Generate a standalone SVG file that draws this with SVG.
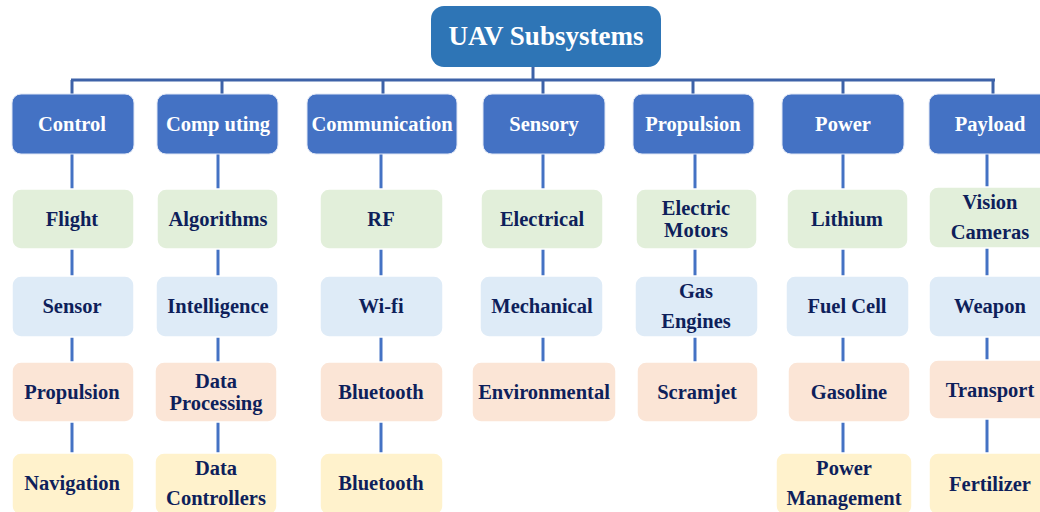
<svg xmlns="http://www.w3.org/2000/svg" width="1040" height="512" viewBox="0 0 1040 512">
<style>
text{font-family:"Liberation Serif","Times New Roman",serif;font-weight:bold;text-anchor:middle}
.root rect{fill:#2e75b6}
.root text{fill:#fff;font-size:27px}
.l1 rect{fill:#4472c4;stroke:#dfe6f5;stroke-width:1}
.l1 text{fill:#fff;font-size:20.5px}
.c text{fill:#0e1f5b;font-size:20.5px}
.c rect{stroke:#fff;stroke-width:1.5}
.g rect{fill:#e2efda}
.b rect{fill:#deebf7}
.p rect{fill:#fbe5d6}
.y rect{fill:#fff2cc}
#connectors line{stroke:#4472c4;stroke-width:3}
#connectors .bus{stroke:#3d62a8}
</style>
<rect width="1040" height="512" fill="#fff"/>
<g id="connectors">
<line class="bus" x1="533" y1="67" x2="533" y2="80"/>
<line class="bus" x1="71" y1="80" x2="995" y2="80"/>
<line class="bus" x1="72" y1="80" x2="72" y2="94"/>
<line class="bus" x1="222" y1="80" x2="222" y2="94"/>
<line class="bus" x1="383" y1="80" x2="383" y2="94"/>
<line class="bus" x1="543" y1="80" x2="543" y2="94"/>
<line class="bus" x1="693" y1="80" x2="693" y2="94"/>
<line class="bus" x1="843" y1="80" x2="843" y2="94"/>
<line class="bus" x1="993" y1="80" x2="993" y2="94"/>
<line x1="72" y1="154" x2="72" y2="189"/><line x1="72" y1="249" x2="72" y2="276"/><line x1="72" y1="337" x2="72" y2="362"/><line x1="72" y1="422" x2="72" y2="453"/>
<line x1="218" y1="154" x2="218" y2="189"/><line x1="218" y1="249" x2="218" y2="276"/><line x1="218" y1="337" x2="218" y2="362"/><line x1="218" y1="422" x2="218" y2="453"/>
<line x1="381" y1="154" x2="381" y2="189"/><line x1="381" y1="249" x2="381" y2="276"/><line x1="381" y1="337" x2="381" y2="362"/><line x1="381" y1="422" x2="381" y2="453"/>
<line x1="543" y1="154" x2="543" y2="189"/><line x1="543" y1="249" x2="543" y2="276"/><line x1="543" y1="337" x2="543" y2="362"/>
<line x1="695" y1="154" x2="695" y2="189"/><line x1="695" y1="249" x2="695" y2="276"/><line x1="695" y1="337" x2="695" y2="362"/>
<line x1="843" y1="154" x2="843" y2="189"/><line x1="843" y1="249" x2="843" y2="276"/><line x1="843" y1="337" x2="843" y2="362"/><line x1="843" y1="422" x2="843" y2="453"/>
<line x1="987" y1="154" x2="987" y2="187"/><line x1="987" y1="248" x2="987" y2="276"/><line x1="987" y1="337" x2="987" y2="360"/><line x1="987" y1="419" x2="987" y2="453"/>
</g>
<g id="root" class="root"><rect x="431" y="6" width="230" height="61" rx="13"/><text x="546" y="45">UAV Subsystems</text></g>
<g id="control" class="l1"><rect x="12" y="94" width="122" height="60" rx="9"/><text x="72" y="131">Control</text></g>
<g id="computing" class="l1"><rect x="157" y="94" width="121" height="60" rx="9"/><text x="218" y="131">Comp uting</text></g>
<g id="communication" class="l1"><rect x="307" y="94" width="150" height="60" rx="9"/><text x="382" y="131">Communication</text></g>
<g id="sensory" class="l1"><rect x="483" y="94" width="122" height="60" rx="9"/><text x="544" y="131">Sensory</text></g>
<g id="propulsion" class="l1"><rect x="633" y="94" width="121" height="60" rx="9"/><text x="693" y="131">Propulsion</text></g>
<g id="power" class="l1"><rect x="782" y="94" width="122" height="60" rx="9"/><text x="843" y="131">Power</text></g>
<g id="payload" class="l1"><rect x="929" y="94" width="124" height="60" rx="9"/><text x="990" y="131">Payload</text></g>

<g id="flight" class="c g"><rect x="12" y="189" width="122" height="60" rx="9"/><text x="72" y="226">Flight</text></g>
<g id="sensor" class="c b"><rect x="12" y="276" width="122" height="61" rx="9"/><text x="72" y="313">Sensor</text></g>
<g id="propulsion2" class="c p"><rect x="12" y="362" width="122" height="60" rx="9"/><text x="72" y="399">Propulsion</text></g>
<g id="navigation" class="c y"><rect x="12" y="453" width="122" height="62" rx="9"/><text x="72" y="490">Navigation</text></g>

<g id="algorithms" class="c g"><rect x="157" y="189" width="121" height="60" rx="9"/><text x="218" y="226">Algorithms</text></g>
<g id="intelligence" class="c b"><rect x="156" y="276" width="122" height="61" rx="9"/><text x="218" y="313">Intelligence</text></g>
<g id="dataprocessing" class="c p"><rect x="155" y="362" width="122" height="60" rx="9"/><text x="216" y="388">Data</text><text x="216" y="410">Processing</text></g>
<g id="datacontrollers" class="c y"><rect x="155" y="453" width="122" height="62" rx="9"/><text x="216" y="475">Data</text><text x="216" y="505">Controllers</text></g>

<g id="rf" class="c g"><rect x="320" y="189" width="123" height="60" rx="9"/><text x="381" y="226">RF</text></g>
<g id="wifi" class="c b"><rect x="320" y="276" width="123" height="61" rx="9"/><text x="381" y="313">Wi-fi</text></g>
<g id="bluetooth1" class="c p"><rect x="320" y="362" width="123" height="60" rx="9"/><text x="381" y="399">Bluetooth</text></g>
<g id="bluetooth2" class="c y"><rect x="320" y="453" width="123" height="62" rx="9"/><text x="381" y="490">Bluetooth</text></g>

<g id="electrical" class="c g"><rect x="481" y="189" width="122" height="60" rx="9"/><text x="542" y="226">Electrical</text></g>
<g id="mechanical" class="c b"><rect x="480" y="276" width="123" height="61" rx="9"/><text x="542" y="313">Mechanical</text></g>
<g id="environmental" class="c p"><rect x="472" y="362" width="144" height="60" rx="9"/><text x="544" y="399">Environmental</text></g>

<g id="electricmotors" class="c g"><rect x="636" y="189" width="121" height="60" rx="9"/><text x="696" y="215">Electric</text><text x="696" y="237">Motors</text></g>
<g id="gasengines" class="c b"><rect x="635" y="276" width="123" height="61" rx="9"/><text x="696" y="298">Gas</text><text x="696" y="328">Engines</text></g>
<g id="scramjet" class="c p"><rect x="637" y="362" width="121" height="60" rx="9"/><text x="697" y="399">Scramjet</text></g>

<g id="lithium" class="c g"><rect x="787" y="189" width="121" height="60" rx="9"/><text x="847" y="226">Lithium</text></g>
<g id="fuelcell" class="c b"><rect x="786" y="276" width="123" height="61" rx="9"/><text x="847" y="313">Fuel Cell</text></g>
<g id="gasoline" class="c p"><rect x="788" y="362" width="122" height="60" rx="9"/><text x="849" y="399">Gasoline</text></g>
<g id="powermanagement" class="c y"><rect x="776" y="453" width="136" height="62" rx="9"/><text x="844" y="475">Power</text><text x="844" y="505">Management</text></g>

<g id="visioncameras" class="c g"><rect x="929" y="187" width="124" height="61" rx="9"/><text x="990" y="209">Vision</text><text x="990" y="239">Cameras</text></g>
<g id="weapon" class="c b"><rect x="929" y="276" width="124" height="61" rx="9"/><text x="990" y="313">Weapon</text></g>
<g id="transport" class="c p"><rect x="929" y="360" width="124" height="59" rx="9"/><text x="990" y="397">Transport</text></g>
<g id="fertilizer" class="c y"><rect x="929" y="453" width="124" height="62" rx="9"/><text x="990" y="491">Fertilizer</text></g>
</svg>
